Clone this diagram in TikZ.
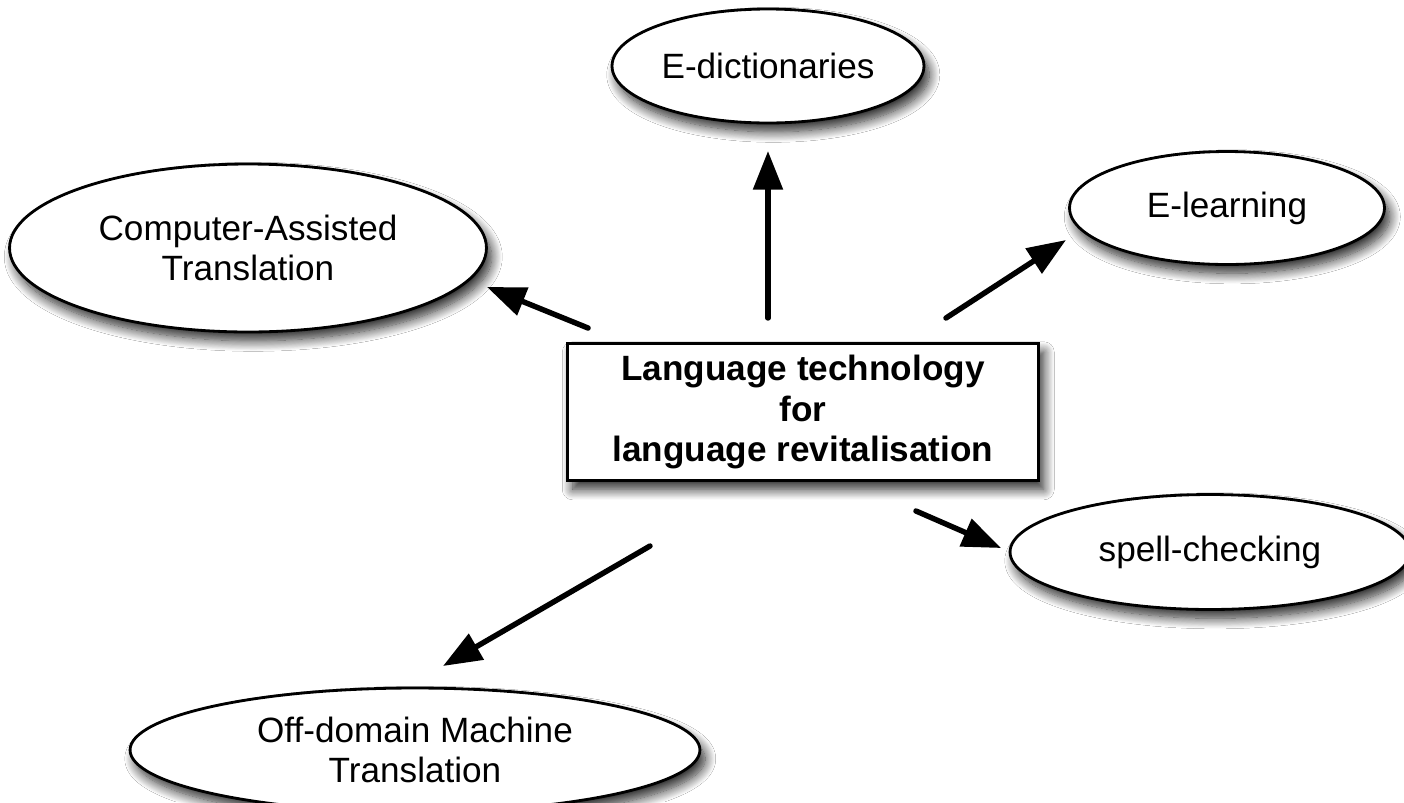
\documentclass[tikz,border=0pt]{standalone}
\usepackage{fontspec}
\setmainfont{Liberation Sans}
\usetikzlibrary{arrows.meta,shadows.blur,shapes.geometric}

\begin{document}
\begin{tikzpicture}[x=0.02cm,y=-0.02cm,
  softshadow/.style={blur shadow={shadow xshift=3pt,shadow yshift=-5pt,
      shadow blur radius=6pt,shadow blur steps=14,shadow opacity=85}},
  topic/.style={ellipse,draw=black,line width=1.6pt,fill=white,inner sep=0pt,
      align=center,font=\fontsize{20}{22.8}\selectfont,softshadow},
  hubbox/.style={rectangle,draw=black,line width=1.9pt,fill=white,inner sep=0pt,
      align=center,font=\fontsize{20}{23}\selectfont\bfseries,softshadow,
      minimum width=9.42cm,minimum height=2.74cm},
  link/.style={line width=3.1pt,line cap=round,
      -{Triangle[length=22pt,width=16.5pt]}}]
  \useasboundingbox (0,0) rectangle (1404,802);
  \clip (0,0) rectangle (1404,802);
  \fill[white] (0,0) rectangle (1404,802);

  % central box
  \node[hubbox] (hub) at (803,412)
    {Language technology\\for\\language revitalisation};

  % surrounding topics
  \node[topic,minimum width=6.24cm,minimum height=2.28cm] (edict) at (768,66)
    {E-dictionaries};
  \node[topic,minimum width=9.54cm,minimum height=3.36cm] (cat) at (248,248)
    {Computer-Assisted\\Translation};
  \node[topic,minimum width=6.3cm,minimum height=2.26cm] (elearn) at (1227,208)
    {E-learning};
  \node[topic,minimum width=8.0cm,minimum height=2.3cm] (spell) at (1210,552)
    {spell-checking};
  \node[topic,minimum width=11.4cm,minimum height=2.48cm] (offmt) at (415,750)
    {Off-domain Machine\\Translation};

  % arrow end points
  \coordinate (s1) at (768,318);  \coordinate (t1) at (768,151);
  \coordinate (s2) at (588,328);  \coordinate (t2) at (487,287);
  \coordinate (s3) at (946,318);  \coordinate (t3) at (1066,240);
  \coordinate (s4) at (916,511);  \coordinate (t4) at (1001,548);
  \coordinate (s5) at (650,546);  \coordinate (t5) at (443,666);

  \draw[link] (s1) -- (t1);
  \draw[link] (s2) -- (t2);
  \draw[link] (s3) -- (t3);
  \draw[link] (s4) -- (t4);
  \draw[link] (s5) -- (t5);
\end{tikzpicture}
\end{document}
